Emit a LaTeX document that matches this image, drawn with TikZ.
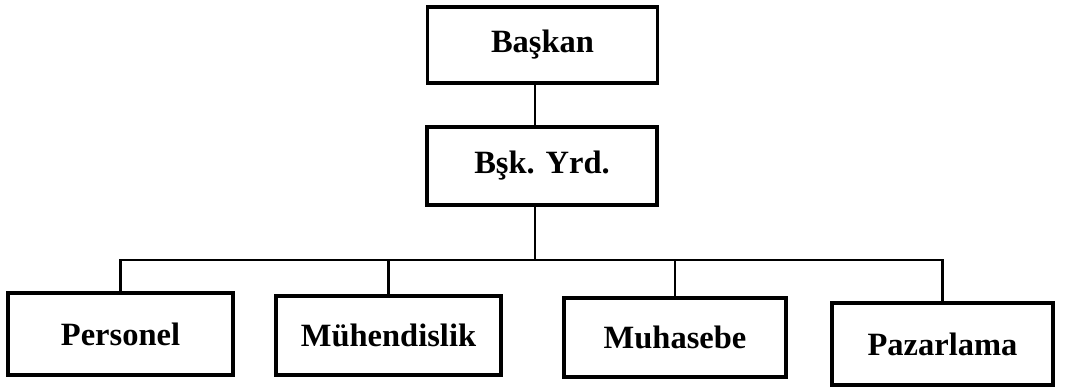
\documentclass[tikz,border=0pt]{standalone}
\usepackage{fontspec}
\setmainfont{Liberation Serif}
\begin{document}
\begin{tikzpicture}[x=1pt,y=-1pt,
  unit/.style={draw=black,line width=3.2pt,fill=white,rectangle,inner sep=0pt,
    font=\fontsize{32.5}{34}\selectfont\bfseries},
  link/.style={draw=black,line width=2.8pt}]
\useasboundingbox (0,0) rectangle (1084,387);
% top of the chart
\node[unit,minimum width=230pt,minimum height=76pt] (top) at (542.5,45) {Başkan};
\node[unit,minimum width=230pt,minimum height=78pt] (vice) at (542,166) {Bşk. Yrd.};
% departments
\node[unit,minimum width=225pt,minimum height=82pt] (d1) at (120.5,334) {Personel};
\node[unit,minimum width=225pt,minimum height=79pt] (d2) at (388.5,335.5) {Mühendislik};
\node[unit,minimum width=222pt,minimum height=79pt] (d3) at (675,337.5) {Muhasebe};
\node[unit,minimum width=221pt,minimum height=82pt] (d4) at (942.5,344) {Pazarlama};
% connectors
\coordinate (bus) at (535,260);
\draw[link] (top.south -| bus) -- (vice.north -| bus);
\draw[link] (vice.south -| bus) -- (bus);
\draw[link] (d1.north) |- (d4.north |- bus) -- (d4.north);
\draw[link] (d2.north) -- (d2.north |- bus);
\draw[link] (d3.north) -- (d3.north |- bus);
\end{tikzpicture}
\end{document}
